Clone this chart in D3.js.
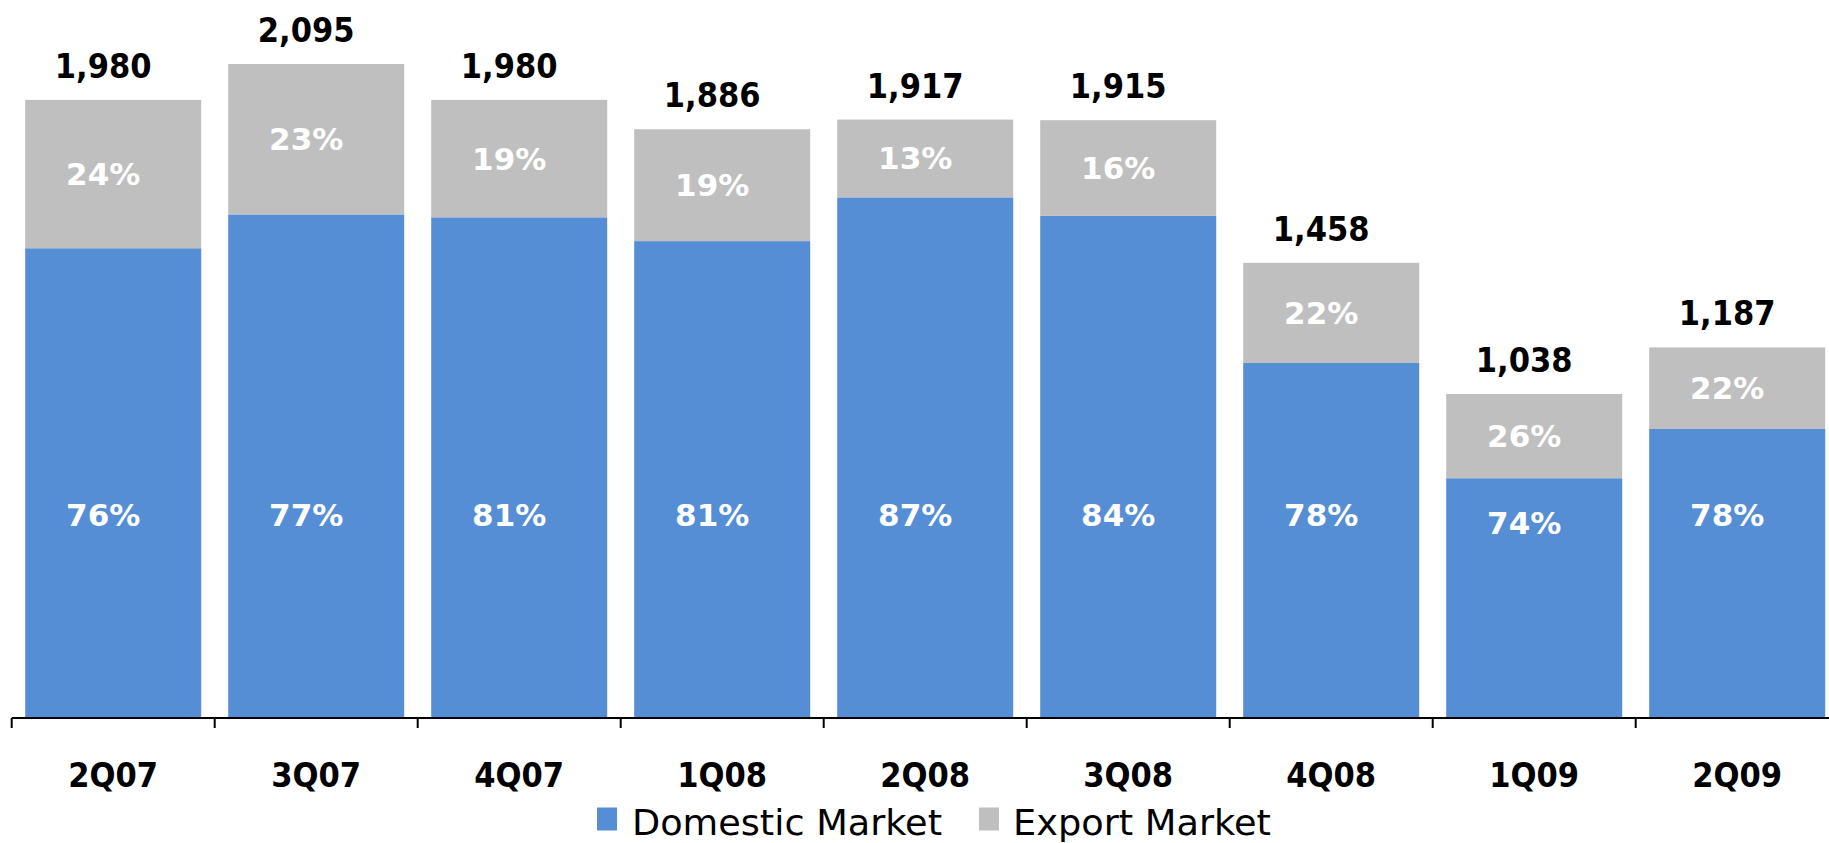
<!DOCTYPE html>
<html>
<head>
<meta charset="utf-8">
<script src="https://cdn.jsdelivr.net/npm/d3@7"></script>
<style>
  html, body { margin: 0; padding: 0; background: #fff; }
  svg { display: block; }
</style>
</head>
<body>
<svg id="chart" width="1829" height="843"></svg>
<script>
// ---- data ----
const categories = ["2Q07", "3Q07", "4Q07", "1Q08", "2Q08", "3Q08", "4Q08", "1Q09", "2Q09"];
const totals = [1980, 2095, 1980, 1886, 1917, 1915, 1458, 1038, 1187];
const domesticPct = [76, 77, 81, 81, 87, 84, 78, 74, 78];
const exportPct = [24, 23, 19, 19, 13, 16, 22, 26, 22];
const totalLabels = ["1,980", "2,095", "1,980", "1,886", "1,917", "1,915", "1,458", "1,038", "1,187"];
const seriesNames = ["Domestic Market", "Export Market"];
const seriesColors = ["#558ED5", "#BFBFBF"];

// ---- layout ----
const W = 1829, H = 843;
const axisY = 718;
const left = 11.7, step = 203;
const svg = d3.select("#chart");
const font = "'DejaVu Sans', Verdana, sans-serif";
const labelShift = -10;
const squeeze = 0.9;

const x = d3.scaleBand()
  .domain(categories)
  .range([left, left + step * categories.length])
  .paddingInner(27 / 203)
  .paddingOuter(13.5 / 203);

const y = d3.scaleLinear().domain([0, 2300]).range([axisY, 0]);

const rows = categories.map((c, i) => {
  const dom = totals[i] * domesticPct[i] / 100;
  return { c, total: totals[i], dom, exp: totals[i] - dom, dp: domesticPct[i], ep: exportPct[i], label: totalLabels[i] };
});

const cx = d => x(d.c) + x.bandwidth() / 2 + labelShift;
const g = svg.append("g");

// domestic bars
g.selectAll("rect.dom").data(rows).join("rect")
  .attr("class", "dom")
  .attr("x", d => x(d.c))
  .attr("width", x.bandwidth())
  .attr("y", d => y(d.dom))
  .attr("height", d => y(0) - y(d.dom))
  .attr("fill", seriesColors[0]);

// export bars
g.selectAll("rect.exp").data(rows).join("rect")
  .attr("class", "exp")
  .attr("x", d => x(d.c))
  .attr("width", x.bandwidth())
  .attr("y", d => y(d.total))
  .attr("height", d => y(d.dom) - y(d.total))
  .attr("fill", seriesColors[1]);

// domestic % labels
g.selectAll("text.dl").data(rows).join("text")
  .attr("x", cx)
  .attr("y", d => Math.max(y(650), y(d.dom) + 45))
  .attr("text-anchor", "middle")
  .attr("dominant-baseline", "central")
  .attr("font-family", font).attr("font-weight", "bold").attr("font-size", 31)
  .attr("fill", "#fff")
  .text(d => d.dp + "%");

// export % labels
g.selectAll("text.el").data(rows).join("text")
  .attr("x", cx)
  .attr("y", d => (y(d.total) + y(d.dom)) / 2)
  .attr("text-anchor", "middle")
  .attr("dominant-baseline", "central")
  .attr("font-family", font).attr("font-weight", "bold").attr("font-size", 31)
  .attr("fill", "#fff")
  .text(d => d.ep + "%");

// totals
g.selectAll("text.tl").data(rows).join("text")
  .attr("transform", d => `translate(${cx(d)},${y(d.total) - 22}) scale(${squeeze},1)`)
  .attr("text-anchor", "middle")
  .attr("font-family", font).attr("font-weight", "bold").attr("font-size", 34)
  .attr("fill", "#000")
  .text(d => d.label);

// axis
g.append("line")
  .attr("x1", left).attr("x2", W)
  .attr("y1", axisY).attr("y2", axisY)
  .attr("stroke", "#000").attr("stroke-width", 2);

const half = (x.step() - x.bandwidth()) / 2;
g.selectAll("line.tick").data(categories).join("line")
  .attr("x1", c => x(c) - half).attr("x2", c => x(c) - half)
  .attr("y1", axisY).attr("y2", axisY + 10)
  .attr("stroke", "#000").attr("stroke-width", 2);

g.selectAll("text.cat").data(categories).join("text")
  .attr("transform", c => `translate(${x(c) + x.bandwidth() / 2},787) scale(${squeeze},1)`)
  .attr("text-anchor", "middle")
  .attr("font-family", font).attr("font-weight", "bold").attr("font-size", 34)
  .attr("fill", "#000")
  .text(c => c);

// legend
const legendItems = [
  { name: seriesNames[0], color: seriesColors[0], sx: 597, tx: 632, tw: 310 },
  { name: seriesNames[1], color: seriesColors[1], sx: 979, tx: 1013, tw: 258 }
];
const lg = svg.append("g");
lg.selectAll("rect").data(legendItems).join("rect")
  .attr("x", d => d.sx).attr("y", 807.5)
  .attr("width", 20).attr("height", 23)
  .attr("fill", d => d.color);
lg.selectAll("text").data(legendItems).join("text")
  .attr("x", d => d.tx).attr("y", 835)
  .attr("font-family", font).attr("font-size", 36)
  .attr("textLength", d => d.tw).attr("lengthAdjust", "spacingAndGlyphs")
  .attr("fill", "#000")
  .text(d => d.name);
</script>
</body>
</html>
